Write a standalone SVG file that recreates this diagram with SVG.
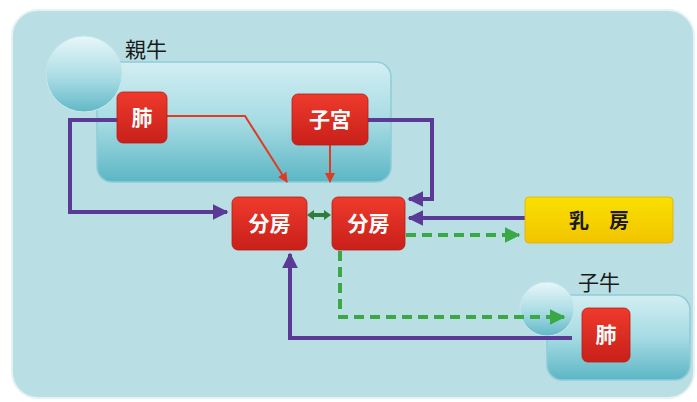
<svg xmlns="http://www.w3.org/2000/svg" width="697" height="402" viewBox="0 0 697 402">
<defs>
<linearGradient id="gBox" x1="0" y1="0" x2="0" y2="1">
<stop offset="0" stop-color="#d2eef2"/><stop offset="0.5" stop-color="#a6dbe3"/><stop offset="1" stop-color="#5cb6c5"/>
</linearGradient>
<linearGradient id="gCirc" x1="0" y1="0" x2="0" y2="1">
<stop offset="0" stop-color="#e8f7f9"/><stop offset="0.55" stop-color="#a9dce4"/><stop offset="1" stop-color="#62b8c7"/>
</linearGradient>
<linearGradient id="gRed" x1="0" y1="0" x2="0" y2="1">
<stop offset="0" stop-color="#ee3a2c"/><stop offset="1" stop-color="#c8201a"/>
</linearGradient>
<linearGradient id="gYel" x1="0" y1="0" x2="0" y2="1">
<stop offset="0" stop-color="#fae000"/><stop offset="1" stop-color="#f2c400"/>
</linearGradient>
<marker id="aP" viewBox="0 0 10 10" refX="9" refY="5" markerWidth="4" markerHeight="4" orient="auto" markerUnits="strokeWidth"><path d="M0,0 L10,5 L0,10 z" fill="#5a3a94"/></marker>
<marker id="aR" viewBox="0 0 10 10" refX="9" refY="5" markerWidth="5" markerHeight="5" orient="auto" markerUnits="strokeWidth"><path d="M0,0 L10,5 L0,10 z" fill="#e03a22"/></marker>
<marker id="aG" viewBox="0 0 10 10" refX="9" refY="5" markerWidth="4" markerHeight="4" orient="auto" markerUnits="strokeWidth"><path d="M0,0 L10,5 L0,10 z" fill="#3aa845"/></marker>
</defs>
<style>
.big{fill:url(#gBox);stroke:#8fcdd8;stroke-width:1.5}
.circ{fill:url(#gCirc);stroke:#c4e8ee;stroke-width:1}
.red{fill:url(#gRed);stroke:#b81a14;stroke-width:0.8}
.rt{font-family:"Noto Sans CJK JP","Noto Sans CJK SC",sans-serif;font-weight:bold;fill:#ffffff;font-size:21px;text-anchor:middle}
.lbl{font-family:"Noto Sans CJK JP","Noto Sans CJK SC",sans-serif;fill:#1a1a1a;font-size:21px}
.pu{fill:none;stroke:#5a3a94;stroke-width:4;marker-end:url(#aP)}
.rl{fill:none;stroke:#e03a22;stroke-width:2;marker-end:url(#aR)}
.gd{fill:none;stroke:#3aa845;stroke-width:4;stroke-dasharray:10 6;marker-end:url(#aG)}
</style>
<rect x="0" y="0" width="697" height="402" fill="#ffffff"/>
<rect x="12" y="10" width="682" height="388" rx="26" fill="#b9dfe4" stroke="#e4f2f4" stroke-width="2"/>

<g id="oyaushi">
<rect class="big" x="97" y="62" width="294" height="120" rx="15"/>
<circle class="circ" cx="84" cy="74" r="38"/>
<text class="lbl" x="125" y="57">親牛</text>
</g>
<g id="koushi">
<rect class="big" x="547" y="295" width="143" height="85" rx="15"/>
<circle class="circ" cx="547" cy="309" r="27"/>
<text class="lbl" x="578" y="290">子牛</text>
</g>

<g id="connectors">
<path class="rl" d="M167,116 L245,116 L287,182"/>
<path class="rl" d="M330,145 L330,182"/>
<path class="pu" d="M117,120 L70,120 L70,212 L227,212"/>
<path class="pu" d="M368,120 L432,120 L432,199 L409,199"/>
<path class="pu" d="M525,218 L409,218"/>
<path class="pu" d="M572,338 L290,338 L290,254"/>
<path class="gd" d="M406,235 L519,235"/>
<path class="gd" d="M340,251 L340,317 L564,317"/>
<g fill="#2f7d3a">
<rect x="312" y="213" width="14" height="4"/>
<path d="M307,215 L314,210 L314,220 z"/>
<path d="M331,215 L324,210 L324,220 z"/>
</g>
</g>

<g id="hai1"><rect class="red" x="117" y="92" width="50" height="51" rx="6"/><text class="rt" x="142" y="125">肺</text></g>
<g id="shikyu"><rect class="red" x="292" y="94" width="76" height="51" rx="6"/><text class="rt" x="330" y="127">子宮</text></g>
<g id="bunben1"><rect class="red" x="232" y="197" width="75" height="53" rx="6"/><text class="rt" x="269.5" y="231">分房</text></g>
<g id="bunben2"><rect class="red" x="332" y="197" width="73" height="53" rx="6"/><text class="rt" x="368.5" y="231">分房</text></g>
<g id="nyubo"><rect x="525" y="197" width="148" height="46" rx="4" fill="url(#gYel)" stroke="#e0b000" stroke-width="0.8"/><text x="599" y="228" font-family="'Noto Sans CJK JP','Noto Sans CJK SC',sans-serif" font-weight="bold" font-size="20" fill="#1a1a1a" text-anchor="middle" xml:space="preserve">乳　房</text></g>
<g id="hai2"><rect class="red" x="582" y="308" width="48" height="54" rx="6"/><text class="rt" x="606" y="342">肺</text></g>
</svg>
